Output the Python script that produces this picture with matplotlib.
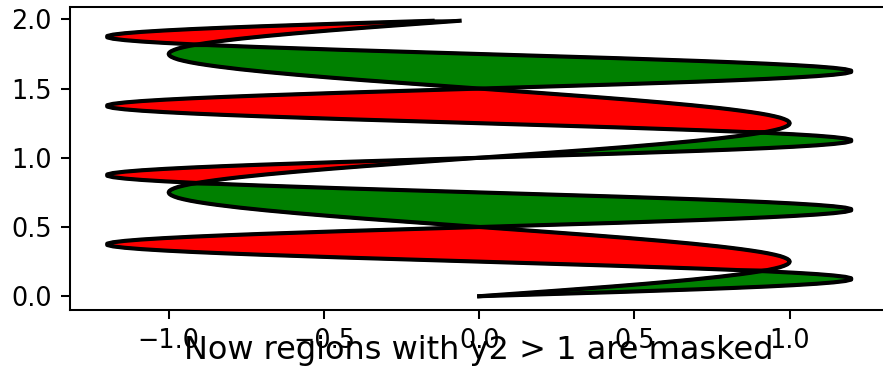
import numpy as np
from matplotlib import pyplot as plt

# sample heights, 0.00 .. 1.99
y = np.arange(0.0, 2.0, 0.01)

x1 = np.array([
	0.000, 0.063, 0.125, 0.187, 0.249, 0.309, 0.368, 0.426, 0.482, 0.536, 0.588, 0.637, 0.685, 0.729, 0.771, 0.809, 0.844, 0.876, 0.905, 0.930, 0.951, 0.969, 0.982, 0.992, 0.998,
	1.000, 0.998, 0.992, 0.982, 0.969, 0.951, 0.930, 0.905, 0.876, 0.844, 0.809, 0.771, 0.729, 0.685, 0.637, 0.588, 0.536, 0.482, 0.426, 0.368, 0.309, 0.249, 0.187, 0.125, 0.063,
	0.000, -0.063, -0.125, -0.187, -0.249, -0.309, -0.368, -0.426, -0.482, -0.536, -0.588, -0.637, -0.685, -0.729, -0.771, -0.809, -0.844, -0.876, -0.905, -0.930, -0.951, -0.969, -0.982, -0.992, -0.998,
	-1.000, -0.998, -0.992, -0.982, -0.969, -0.951, -0.930, -0.905, -0.876, -0.844, -0.809, -0.771, -0.729, -0.685, -0.637, -0.588, -0.536, -0.482, -0.426, -0.368, -0.309, -0.249, -0.187, -0.125, -0.063,
	0.000, 0.063, 0.125, 0.187, 0.249, 0.309, 0.368, 0.426, 0.482, 0.536, 0.588, 0.637, 0.685, 0.729, 0.771, 0.809, 0.844, 0.876, 0.905, 0.930, 0.951, 0.969, 0.982, 0.992, 0.998,
	1.000, 0.998, 0.992, 0.982, 0.969, 0.951, 0.930, 0.905, 0.876, 0.844, 0.809, 0.771, 0.729, 0.685, 0.637, 0.588, 0.536, 0.482, 0.426, 0.368, 0.309, 0.249, 0.187, 0.125, 0.063,
	0.000, -0.063, -0.125, -0.187, -0.249, -0.309, -0.368, -0.426, -0.482, -0.536, -0.588, -0.637, -0.685, -0.729, -0.771, -0.809, -0.844, -0.876, -0.905, -0.930, -0.951, -0.969, -0.982, -0.992, -0.998,
	-1.000, -0.998, -0.992, -0.982, -0.969, -0.951, -0.930, -0.905, -0.876, -0.844, -0.809, -0.771, -0.729, -0.685, -0.637, -0.588, -0.536, -0.482, -0.426, -0.368, -0.309, -0.249, -0.187, -0.125, -0.063,
])

x2 = np.array([
	0.000, 0.150, 0.298, 0.442, 0.578, 0.705, 0.821, 0.925, 1.013, 1.086, 1.141, 1.179, 1.198, 1.198, 1.179, 1.141, 1.086, 1.013, 0.925, 0.821, 0.705, 0.578, 0.442, 0.298, 0.150,
	0.000, -0.150, -0.298, -0.442, -0.578, -0.705, -0.821, -0.925, -1.013, -1.086, -1.141, -1.179, -1.198, -1.198, -1.179, -1.141, -1.086, -1.013, -0.925, -0.821, -0.705, -0.578, -0.442, -0.298, -0.150,
	0.000, 0.150, 0.298, 0.442, 0.578, 0.705, 0.821, 0.925, 1.013, 1.086, 1.141, 1.179, 1.198, 1.198, 1.179, 1.141, 1.086, 1.013, 0.925, 0.821, 0.705, 0.578, 0.442, 0.298, 0.150,
	0.000, -0.150, -0.298, -0.442, -0.578, -0.705, -0.821, -0.925, -1.013, -1.086, -1.141, -1.179, -1.198, -1.198, -1.179, -1.141, -1.086, -1.013, -0.925, -0.821, -0.705, -0.578, -0.442, -0.298, -0.150,
	0.000, 0.150, 0.298, 0.442, 0.578, 0.705, 0.821, 0.925, 1.013, 1.086, 1.141, 1.179, 1.198, 1.198, 1.179, 1.141, 1.086, 1.013, 0.925, 0.821, 0.705, 0.578, 0.442, 0.298, 0.150,
	0.000, -0.150, -0.298, -0.442, -0.578, -0.705, -0.821, -0.925, -1.013, -1.086, -1.141, -1.179, -1.198, -1.198, -1.179, -1.141, -1.086, -1.013, -0.925, -0.821, -0.705, -0.578, -0.442, -0.298, -0.150,
	0.000, 0.150, 0.298, 0.442, 0.578, 0.705, 0.821, 0.925, 1.013, 1.086, 1.141, 1.179, 1.198, 1.198, 1.179, 1.141, 1.086, 1.013, 0.925, 0.821, 0.705, 0.578, 0.442, 0.298, 0.150,
	0.000, -0.150, -0.298, -0.442, -0.578, -0.705, -0.821, -0.925, -1.013, -1.086, -1.141, -1.179, -1.198, -1.198, -1.179, -1.141, -1.086, -1.013, -0.925, -0.821, -0.705, -0.578, -0.442, -0.298, -0.150,
])

title = "Now regions with y2 > 1 are masked"

DPI = 184
fig = plt.figure(figsize=(883/DPI, 367/DPI), dpi=DPI)
# axes runs a few px past the right edge, as in the reference
ax = fig.add_axes([70/883, 1 - 310/367, 818.4/883, 303/367])

ax.plot(x1, y, x2, y, color="black", linewidth=1.6)
ax.fill_betweenx(y, x1, x2, where=x2 >= x1, facecolor="green", edgecolor="black", linewidth=1.1)
ax.fill_betweenx(y, x1, x2, where=x2 <= x1, facecolor="red", edgecolor="black", linewidth=1.1)
ax.set_xticks([-1.0, -0.5, 0.0, 0.5, 1.0])
ax.set_yticks([0.0, 0.5, 1.0, 1.5, 2.0])

# title sits under the axes and runs over the x tick labels, like the reference
ax.text(0.5, -0.162, title, transform=ax.transAxes, ha="center", va="baseline", fontsize=12.5)

fig.savefig("out.png", dpi=DPI)
